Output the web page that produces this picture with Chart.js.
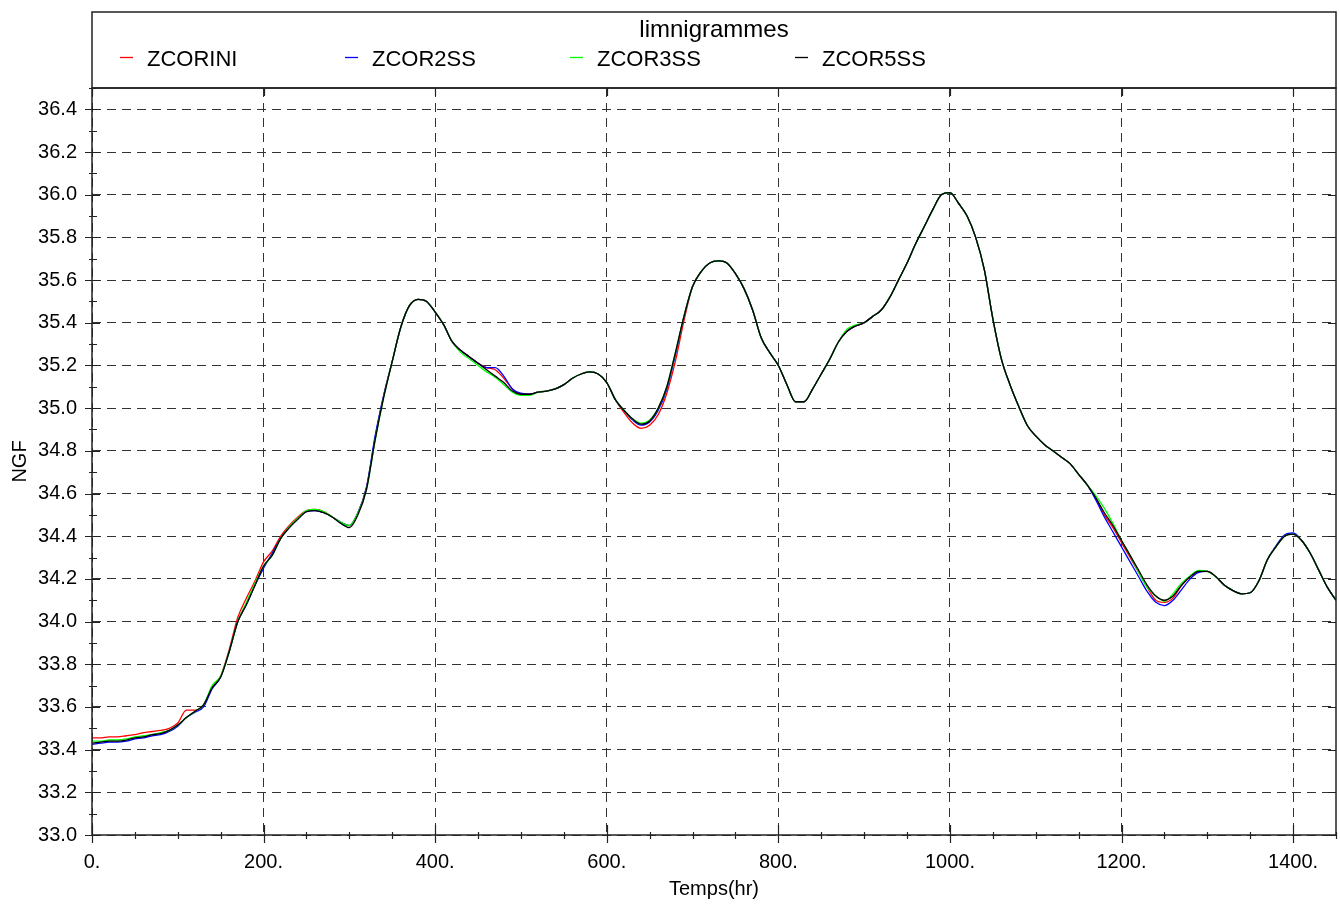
<!DOCTYPE html>
<html>
<head>
<meta charset="utf-8">
<title>limnigrammes</title>
<script src="https://cdn.jsdelivr.net/npm/chart.js@4.4.1/dist/chart.umd.min.js"></script>
<style>
  html, body { margin: 0; padding: 0; background: #fff; }
  #wrap { width: 1340px; height: 909px; }
</style>
</head>
<body>
<div id="wrap"><canvas id="graphe" width="1340" height="909"></canvas></div>
<script>
// Temps (hr), un point toutes les 10 heures
const temps = [];
for (let t = 0; t <= 1450; t += 10) temps.push(t);

const noms = ['ZCORINI', 'ZCOR2SS', 'ZCOR3SS', 'ZCOR5SS'];
const couleurs = ['#ff0000', '#0000ff', '#00ff00', '#000000'];

// Cotes NGF
const zcorIni = [
  33.455, 33.455, 33.46, 33.46, 33.465, 33.47, 33.48, 33.485, 33.49, 33.50,
  33.525, 33.585, 33.585, 33.61, 33.69, 33.745, 33.87, 34.02, 34.11, 34.19,
  34.28, 34.33, 34.40, 34.45, 34.49, 34.52, 34.525, 34.515, 34.49, 34.465,
  34.45, 34.51, 34.63, 34.86, 35.06, 35.22, 35.38, 35.48, 35.51, 35.50,
  35.45, 35.39, 35.31, 35.27, 35.24, 35.21, 35.19, 35.18, 35.14, 35.09,
  35.065, 35.065, 35.075, 35.08, 35.09, 35.11, 35.14, 35.16, 35.17, 35.16,
  35.12, 35.04, 34.98, 34.93, 34.905, 34.92, 34.97, 35.07, 35.22, 35.41,
  35.57, 35.64, 35.68, 35.69, 35.68, 35.63, 35.56, 35.46, 35.33, 35.26,
  35.20, 35.11, 35.03, 35.03, 35.09, 35.16, 35.23, 35.31, 35.36, 35.385,
  35.40, 35.43, 35.46, 35.52, 35.60, 35.68, 35.77, 35.85, 35.93, 36.00,
  36.01, 35.96, 35.90, 35.80, 35.65, 35.42, 35.23, 35.11, 35.01, 34.92,
  34.87, 34.83, 34.80, 34.77, 34.74, 34.69, 34.64, 34.58, 34.50, 34.44,
  34.37, 34.30, 34.23, 34.16, 34.10, 34.09, 34.11, 34.17, 34.21, 34.235,
  34.235, 34.21, 34.17, 34.145, 34.13, 34.135, 34.19, 34.29, 34.35, 34.40,
  34.41, 34.38, 34.32, 34.24, 34.16, 34.10
];
const zcor2ss = [
  33.425, 33.43, 33.435, 33.435, 33.44, 33.45, 33.455, 33.465, 33.47, 33.485,
  33.51, 33.55, 33.575, 33.60, 33.685, 33.74, 33.86, 34.00, 34.08, 34.17,
  34.25, 34.32, 34.39, 34.44, 34.48, 34.515, 34.52, 34.51, 34.49, 34.465,
  34.45, 34.51, 34.63, 34.87, 35.06, 35.22, 35.38, 35.48, 35.51, 35.50,
  35.45, 35.39, 35.31, 35.27, 35.24, 35.21, 35.19, 35.19, 35.15, 35.09,
  35.07, 35.065, 35.075, 35.08, 35.09, 35.11, 35.14, 35.16, 35.17, 35.16,
  35.12, 35.04, 34.99, 34.945, 34.92, 34.935, 34.99, 35.09, 35.25, 35.43,
  35.57, 35.64, 35.68, 35.69, 35.68, 35.63, 35.56, 35.46, 35.33, 35.26,
  35.20, 35.11, 35.03, 35.03, 35.09, 35.16, 35.23, 35.31, 35.36, 35.385,
  35.40, 35.43, 35.46, 35.52, 35.60, 35.68, 35.77, 35.85, 35.93, 36.00,
  36.01, 35.96, 35.90, 35.80, 35.65, 35.42, 35.23, 35.11, 35.01, 34.92,
  34.87, 34.83, 34.80, 34.77, 34.74, 34.69, 34.64, 34.57, 34.49, 34.42,
  34.35, 34.28, 34.21, 34.14, 34.09, 34.075, 34.10, 34.15, 34.20, 34.23,
  34.235, 34.21, 34.17, 34.145, 34.13, 34.135, 34.19, 34.29, 34.355, 34.405,
  34.415, 34.38, 34.32, 34.24, 34.16, 34.10
];
const zcor3ss = [
  33.44, 33.44, 33.445, 33.445, 33.45, 33.46, 33.465, 33.47, 33.48, 33.49,
  33.515, 33.55, 33.58, 33.61, 33.70, 33.745, 33.86, 34.00, 34.09, 34.18,
  34.26, 34.31, 34.39, 34.445, 34.485, 34.52, 34.525, 34.515, 34.49, 34.465,
  34.45, 34.51, 34.62, 34.85, 35.05, 35.22, 35.38, 35.48, 35.51, 35.50,
  35.45, 35.39, 35.31, 35.26, 35.23, 35.20, 35.17, 35.145, 35.11, 35.075,
  35.06, 35.06, 35.075, 35.08, 35.09, 35.11, 35.14, 35.16, 35.17, 35.16,
  35.12, 35.04, 34.99, 34.95, 34.93, 34.945, 35.00, 35.10, 35.26, 35.43,
  35.57, 35.64, 35.68, 35.69, 35.68, 35.63, 35.56, 35.46, 35.33, 35.26,
  35.20, 35.11, 35.03, 35.03, 35.09, 35.16, 35.23, 35.31, 35.37, 35.39,
  35.40, 35.43, 35.46, 35.52, 35.60, 35.68, 35.77, 35.85, 35.93, 36.00,
  36.01, 35.96, 35.90, 35.80, 35.65, 35.42, 35.23, 35.11, 35.01, 34.92,
  34.87, 34.83, 34.80, 34.77, 34.74, 34.69, 34.64, 34.59, 34.53, 34.46,
  34.38, 34.31, 34.23, 34.16, 34.12, 34.095, 34.13, 34.18, 34.215, 34.24,
  34.235, 34.21, 34.17, 34.145, 34.13, 34.135, 34.19, 34.29, 34.35, 34.40,
  34.41, 34.38, 34.32, 34.24, 34.16, 34.10
];
const zcor5ss = [
  33.43, 33.435, 33.44, 33.44, 33.445, 33.455, 33.46, 33.47, 33.475, 33.49,
  33.515, 33.55, 33.58, 33.61, 33.69, 33.74, 33.86, 34.00, 34.08, 34.17,
  34.26, 34.31, 34.39, 34.44, 34.48, 34.515, 34.52, 34.51, 34.49, 34.46,
  34.44, 34.50, 34.62, 34.85, 35.05, 35.22, 35.38, 35.48, 35.51, 35.50,
  35.45, 35.39, 35.31, 35.27, 35.24, 35.21, 35.18, 35.15, 35.12, 35.08,
  35.065, 35.065, 35.075, 35.08, 35.09, 35.11, 35.14, 35.16, 35.17, 35.16,
  35.12, 35.04, 34.99, 34.95, 34.925, 34.94, 35.00, 35.10, 35.26, 35.43,
  35.57, 35.64, 35.68, 35.69, 35.68, 35.63, 35.56, 35.46, 35.33, 35.26,
  35.20, 35.11, 35.03, 35.03, 35.09, 35.16, 35.23, 35.31, 35.36, 35.385,
  35.40, 35.43, 35.46, 35.52, 35.60, 35.68, 35.77, 35.85, 35.93, 36.00,
  36.01, 35.96, 35.90, 35.80, 35.65, 35.42, 35.23, 35.11, 35.01, 34.92,
  34.87, 34.83, 34.80, 34.77, 34.74, 34.69, 34.64, 34.58, 34.51, 34.45,
  34.38, 34.31, 34.24, 34.17, 34.12, 34.10, 34.12, 34.17, 34.21, 34.235,
  34.235, 34.21, 34.17, 34.145, 34.13, 34.135, 34.19, 34.29, 34.35, 34.40,
  34.41, 34.38, 34.32, 34.24, 34.16, 34.10
];
const series = [zcorIni, zcor2ss, zcor3ss, zcor5ss];

// Axes
const xMin = 0, xMax = 1450, xMajeur = 200, xMineur = 50;
const yMin = 33.0, yMax = 36.5, yMajeur = 0.2, yMineur = 0.1;

const police = "'Liberation Sans', Arial, Helvetica, sans-serif";
Chart.defaults.font.family = police;
Chart.defaults.color = '#000';

const estMajeurX = v => Math.abs(v % xMajeur) < 1e-6;
const estMajeurY = v => Math.round(v * 10) % 2 === 0;

// Cadre, graduations et légende façon logiciel de calcul
const cadrePlugin = {
  id: 'cadre',
  afterDraw(chart) {
    const ctx = chart.ctx;
    const a = chart.chartArea;
    const sx = chart.scales.x, sy = chart.scales.y;
    ctx.save();
    ctx.strokeStyle = '#222';
    ctx.lineWidth = 1.5;
    ctx.strokeRect(a.left, a.top, a.right - a.left, a.bottom - a.top);
    // boîte de légende
    ctx.strokeRect(a.left, 12, a.right - a.left, a.top - 12);

    ctx.lineWidth = 1.2;
    ctx.beginPath();
    for (let v = xMin; v <= xMax + 1e-6; v += xMineur) {
      const px = Math.round(sx.getPixelForValue(v)) + 0.5;
      if (estMajeurX(v)) {
        ctx.moveTo(px, a.bottom - 10); ctx.lineTo(px, a.bottom + 8);
        ctx.moveTo(px, a.top); ctx.lineTo(px, a.top + 8);
      } else {
        ctx.moveTo(px, a.bottom - 3); ctx.lineTo(px, a.bottom + 4);
      }
    }
    for (let i = 0; yMin + i * yMineur <= yMax + 1e-6; i++) {
      const v = yMin + i * yMineur;
      const py = Math.round(sy.getPixelForValue(v)) + 0.5;
      if (i % 2 === 0) {
        ctx.moveTo(a.left - 7, py); ctx.lineTo(a.left + 8, py);
        ctx.moveTo(a.right - 8, py); ctx.lineTo(a.right, py);
      } else {
        ctx.moveTo(a.left - 3, py); ctx.lineTo(a.left + 5, py);
      }
    }
    ctx.stroke();

    // titre et légende
    ctx.fillStyle = '#000';
    ctx.textBaseline = 'middle';
    ctx.textAlign = 'center';
    ctx.font = '24px ' + police;
    ctx.fillText('limnigrammes', (a.left + a.right) / 2, 30);
    ctx.textAlign = 'left';
    ctx.font = '22px ' + police;
    chart.data.datasets.forEach((ds, i) => {
      const x0 = 120 + i * 225;
      ctx.strokeStyle = ds.borderColor;
      ctx.lineWidth = 1.3;
      ctx.beginPath();
      ctx.moveTo(x0, 57.5); ctx.lineTo(x0 + 13, 57.5);
      ctx.stroke();
      ctx.fillText(ds.label, x0 + 27, 60);
    });
    ctx.restore();
  }
};

const datasets = series.map((vals, i) => ({
  label: noms[i],
  data: temps.map((t, k) => ({ x: t, y: vals[k] })),
  borderColor: couleurs[i],
  borderWidth: 1.3,
  pointRadius: 0,
  fill: false,
  cubicInterpolationMode: 'monotone',
  order: series.length - 1 - i
}));

new Chart(document.getElementById('graphe'), {
  type: 'line',
  data: { datasets },
  plugins: [cadrePlugin],
  options: {
    responsive: false,
    animation: false,
    devicePixelRatio: 1,
    layout: { padding: { top: 88, right: 4, left: 0, bottom: 0 } },
    plugins: {
      legend: { display: false },
      title: { display: false },
      tooltip: { enabled: false }
    },
    scales: {
      x: {
        type: 'linear',
        min: xMin,
        max: xMax,
        afterFit: s => { s.height = 74; s.paddingLeft = 0; s.paddingRight = 0; },
        afterBuildTicks: s => {
          s.ticks = [];
          for (let v = xMin; v <= xMax; v += xMineur) s.ticks.push({ value: v });
        },
        ticks: {
          autoSkip: false,
          maxRotation: 0,
          padding: 15,
          font: { size: 20 },
          callback: v => estMajeurX(v) ? v + '.' : ''
        },
        grid: {
          drawTicks: false,
          lineWidth: 1,
          color: c => (c.tick && estMajeurX(c.tick.value)) ? '#333' : 'rgba(0,0,0,0)'
        },
        border: { display: false, dash: [9, 6] },
        title: { display: true, text: 'Temps(hr)', font: { size: 20 }, padding: { top: 0, bottom: 8 } }
      },
      y: {
        min: yMin,
        max: yMax,
        afterFit: s => { s.width = 92; s.paddingTop = 0; s.paddingBottom = 0; },
        afterBuildTicks: s => {
          s.ticks = [];
          for (let i = 0; yMin + i * yMineur <= yMax + 1e-6; i++) {
            s.ticks.push({ value: Math.round((yMin + i * yMineur) * 10) / 10 });
          }
        },
        ticks: {
          autoSkip: false,
          padding: 15,
          font: { size: 20 },
          callback: v => estMajeurY(v) ? v.toFixed(1) : ''
        },
        grid: {
          drawTicks: false,
          lineWidth: 1,
          color: c => (c.tick && estMajeurY(c.tick.value)) ? '#333' : 'rgba(0,0,0,0)'
        },
        border: { display: false, dash: [9, 6] },
        title: { display: true, text: 'NGF', font: { size: 20 }, padding: { top: 8, bottom: 0 } }
      }
    }
  }
});
</script>
</body>
</html>
